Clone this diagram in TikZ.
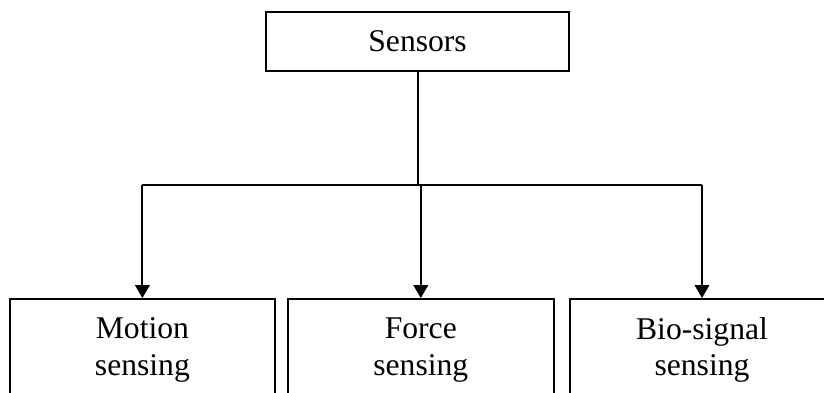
\documentclass[tikz,border=0pt]{standalone}
\usepackage{fontspec}
\setmainfont{Liberation Serif}
\usetikzlibrary{arrows.meta}
\begin{document}
\begin{tikzpicture}[>={Triangle[width=.36cm,length=.32cm]}, line width=1.4pt,
    box/.style={draw, rectangle, align=center, font=\fontsize{22.5}{25.8}\selectfont}]
\useasboundingbox (0,0) rectangle (20.6,-9.8);
\clip (0,0) rectangle (20.6,-9.8);

\node[box, minimum width=7.58cm, minimum height=1.48cm] (sensors) at (10.44,-1.04) {Sensors};
\node[box, minimum width=6.63cm, minimum height=2.55cm] (motion) at (3.56,-8.75) {Motion\\sensing};
\node[box, minimum width=6.65cm, minimum height=2.55cm] (force) at (10.52,-8.75) {Force\\sensing};
\node[box, minimum width=6.6cm, minimum height=2.55cm] (bio) at (17.55,-8.75) {Bio-signal\\sensing};

\coordinate (bus) at (0,-4.625);
\draw (sensors.south) -- (sensors |- bus);
\draw (motion |- bus) -- (bio |- bus);
\foreach \n in {motion, force, bio}
{
    \draw [->] (\n |- bus) -- (\n.north);
}
\end{tikzpicture}
\end{document}
